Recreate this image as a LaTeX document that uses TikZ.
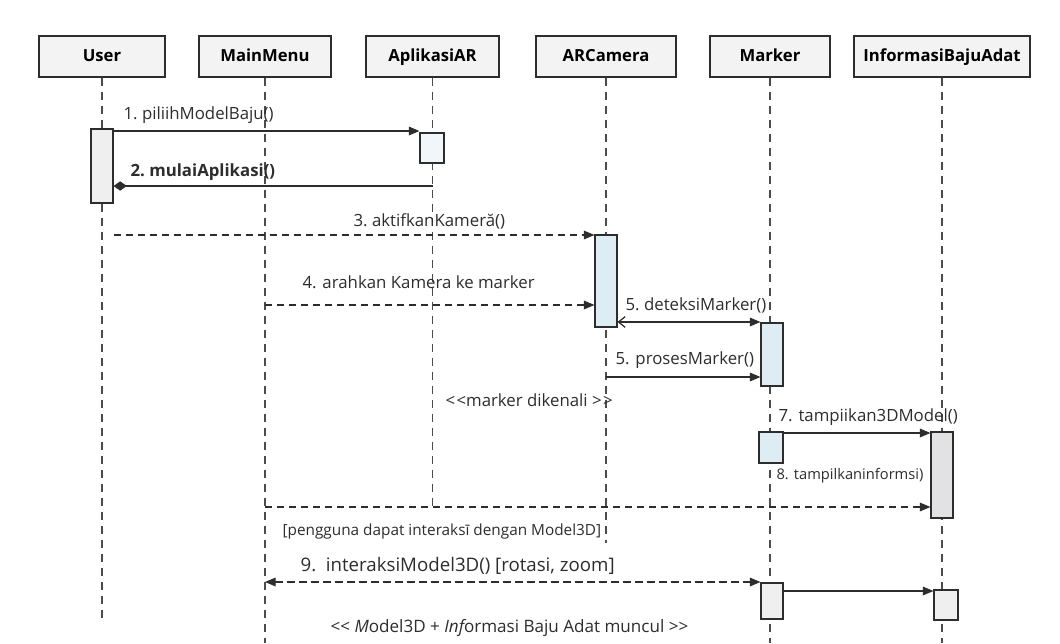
\documentclass[tikz,border=0pt]{standalone}
\usepackage{fontspec}
\setmainfont{Open Sans}
\usepackage{xcolor}
\usetikzlibrary{arrows.meta}
\definecolor{seqink}{RGB}{45,45,45}
\definecolor{seqhead}{RGB}{243,243,243}
\definecolor{seqblue}{RGB}{222,236,244}
\definecolor{seqpale}{RGB}{241,246,250}
\definecolor{seqgray}{RGB}{226,226,228}
\definecolor{seqlight}{RGB}{240,239,239}

\begin{document}
\begin{tikzpicture}[x=0.75pt,y=-0.75pt,font=\fontsize{12.6}{14}\selectfont,line width=0.9pt,
  head/.style={draw=seqink,fill=seqhead,minimum height=30.75pt,inner sep=0pt,text height=9.5pt,text depth=2.5pt,
    font=\fontsize{12.5}{14}\selectfont\bfseries},
  act/.style={draw=seqink,line width=0.8pt,inner sep=0pt},
  lifeline/.style={seqink!85,line width=0.8pt,dash pattern=on 6pt off 4.5pt},
  msg/.style={seqink,-{Triangle[length=8pt,width=6.5pt]}},
  reply/.style={msg,dash pattern=on 5.5pt off 3.5pt},
  lbl/.style={anchor=west,text=seqink,inner sep=0pt}]
\useasboundingbox (0,0) rectangle (1060,643);
\fill[white] (0,0) rectangle (1060,643);
% ---------------- participants ----------------
\foreach \n/\x/\w/\t in {user/102/94.5/User,menu/265/99/MainMenu,app/432.5/99.75/AplikasiAR,
    cam/606/105/ARCamera,marker/770/90/Marker,info/942/132/InformasiBajuAdat}{
  \node[head,minimum width=\w pt] (\n) at (\x,56.5) {\t};}
\foreach \n/\e in {user/623,menu/643,app/508,cam/543,marker/643,info/643}{
  \draw[lifeline] (\n.south) -- (\n.south |- 0,\e);}
% ---------------- activations ----------------
\node[act,fill=seqlight,minimum width=16.5pt,minimum height=55.5pt] (uact) at (102,166) {};
\node[act,fill=seqpale,minimum width=18pt,minimum height=22.5pt] (aact) at (432,148) {};
\node[act,fill=seqblue,minimum width=16.5pt,minimum height=69pt] (cact) at (606,281) {};
\node[act,fill=seqblue,minimum width=16.5pt,minimum height=47.25pt] (mact1) at (772,354.5) {};
\node[act,fill=seqblue,minimum width=18pt,minimum height=23.25pt] (mact2) at (771,447.5) {};
\node[act,fill=seqgray,minimum width=16.5pt,minimum height=64.5pt] (iact1) at (942,475) {};
\node[act,fill=seqlight,minimum width=16.5pt,minimum height=27pt] (mact3) at (772,601) {};
\node[act,fill=seqlight,minimum width=18pt,minimum height=22.5pt] (iact2) at (946,605) {};
% ---------------- messages ----------------
\draw[msg] (uact.east |- 0,131) -- (aact.west |- 0,131);
\draw[seqink,-{Diamond[length=10pt,width=7pt]}] (app.south |- 0,186) -- (uact.east |- 0,186);
\draw[reply] (uact.east |- 0,235) -- (cact.west |- 0,235);
\draw[reply] (menu.south |- 0,305) -- (cact.west |- 0,305);
\draw[seqink,{Straight Barb[length=5pt,width=8pt]}-{Triangle[length=8pt,width=6.5pt]}]
  (cact.east |- 0,322) -- (mact1.west |- 0,322);
\draw[msg] (cam.south |- 0,377) -- (mact1.west |- 0,377);
\draw[msg] (mact2.east |- 0,433) -- (iact1.west |- 0,433);
\draw[reply] (menu.south |- 0,507) -- (iact1.west |- 0,507);
\draw[reply,{Triangle[length=8pt,width=6.5pt]}-{Triangle[length=8pt,width=6.5pt]}]
  (menu.south |- 0,582) -- (mact3.west |- 0,582);
\draw[msg] (mact3.east |- 0,591) -- (iact2.west |- 0,591);
% ---------------- labels ----------------
\node[lbl] (l1) at (123,115) {1.\ piliihModelBaju()};
\node[lbl,font=\fontsize{12.6}{14}\selectfont\bfseries] (l2) at (130,172) {2.\ mulaiAplikasi()};
\node[lbl] (l3) at (353,221) {3.\ aktifkanKameră()};
\node[lbl] (l4) at (302,282) {4. arahkan Kamera ke marker};
\node[lbl] (l5) at (625,305) {5.\ deteksiMarker()};
\node[lbl] (l6) at (615,360) {5. prosesMarker()};
\node[lbl] (n1) at (445,400) {<\kern1pt<marker dikenali >\kern1pt>};
\node[lbl] (l7) at (778,417) {7. tampiikan3DModel()};
\node[lbl,font=\fontsize{11}{13}\selectfont] (l8) at (776,476) {8. tampilkaninformsi)};
\node[lbl,font=\fontsize{11.5}{13}\selectfont] (n2) at (282,532) {[pengguna dapat interaksī dengan Model3D]};
\node[lbl,font=\fontsize{14}{16}\selectfont] (l9) at (300,566) {9.\ \ interaksiModel3D() [rotasi, zoom]};
\node[lbl,font=\fontsize{12.8}{14}\selectfont] (n3) at (330,628)
  {<{}< {\itshape M}odel3D + {\itshape Inf}ormasi Baju Adat muncul >{}>};
\end{tikzpicture}
\end{document}
